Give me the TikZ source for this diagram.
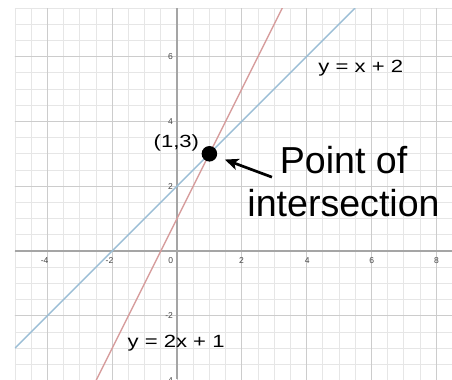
\documentclass[tikz,border=0pt]{standalone}
\usepackage{fontspec}
\setmainfont{Liberation Sans}
\newfontfamily\lblfont[FakeStretch=1.25]{Liberation Sans}
\usetikzlibrary{arrows.meta}
\definecolor{minorgrid}{RGB}{230,230,230}
\definecolor{majorgrid}{RGB}{204,204,204}
\definecolor{axiscol}{RGB}{165,165,165}
\definecolor{blueline}{RGB}{155,190,214}
\definecolor{redline}{RGB}{214,155,155}
\definecolor{tickcol}{RGB}{70,70,70}
\tikzset{
  minorline/.style={draw=minorgrid, line width=0.6pt},
  majorline/.style={draw=majorgrid, line width=0.8pt},
  axisline/.style={draw=axiscol, line width=1.1pt},
  graphline/.style={line width=1.2pt},
  ticklbl/.style={font=\fontsize{7.5}{8}\selectfont, text=tickcol, inner sep=0pt},
  eqlbl/.style={font=\lblfont\fontsize{15.5}{18}\selectfont, inner sep=0pt, anchor=base west},
  biglbl/.style={font=\fontsize{33}{38}\selectfont, inner sep=0pt, anchor=base},
  ptr/.style={line width=2.4pt, -{Stealth[length=12pt,width=10pt,inset=3pt]}},
  dotnode/.style={circle, fill=black, minimum size=0.48cm, inner sep=0pt},
}
\begin{document}
\begin{tikzpicture}[x=1cm,y=1cm]
\useasboundingbox[fill=white] (-5.463,-3.951) rectangle (8.488,7.747);
\begin{scope}
  \clip (-5,-3.951) rectangle (8.5,7.5);
  \draw[minorline] (-5,-4) grid[step=0.5] (8.5,7.5);
  \draw[majorline] (-6,-4) grid[step=2] (8.5,7.5);
  \draw[axisline] (-5,0) -- (8.5,0);
  \draw[axisline] (0,-3.951) -- (0,7.5);
  % tick labels
  \node[ticklbl, anchor=east] (xm4) at (-3.96,-0.28) {-4};
  \node[ticklbl, anchor=east] (xm2) at (-1.96,-0.28) {-2};
  \node[ticklbl] (x0) at (-0.19,-0.28) {0};
  \node[ticklbl] (x2) at (1.99,-0.28) {2};
  \node[ticklbl] (x4) at (4.02,-0.28) {4};
  \node[ticklbl] (x6) at (6.01,-0.28) {6};
  \node[ticklbl] (x8) at (8.01,-0.28) {8};
  \node[ticklbl, anchor=east] (y6) at (-0.12,6) {6};
  \node[ticklbl, anchor=east] (y4) at (-0.12,4) {4};
  \node[ticklbl, anchor=east] (y2) at (-0.12,2) {2};
  \node[ticklbl, anchor=east] (ym2) at (-0.12,-2) {-2};
  \node[ticklbl, anchor=east] (ym4) at (-0.12,-4) {-4};
  % graphs
  \draw[graphline, draw=blueline] (-5,-3) -- (5.5,7.5);
  \draw[graphline, draw=redline] (-2.5,-4) -- (3.25,7.5);
\end{scope}
\node[dotnode] (dot) at (1,3) {};
\node[eqlbl, anchor=base] (ptlbl) at (-0.02,3.19) {(1,3)};
\node[eqlbl] (eq1) at (4.36,5.52) {y = x + 2};
\node[eqlbl] (eq2) at (-1.53,-2.99) {y = 2x + 1};
\node[biglbl] (poi1) at (5.14,2.40) {Point of};
\node[biglbl] (poi2) at (5.14,1.08) {intersection};
\coordinate (arrowtail) at (2.93,2.28);
\draw[ptr, shorten >=0.26cm] (arrowtail) -- (dot);
\end{tikzpicture}
\end{document}
